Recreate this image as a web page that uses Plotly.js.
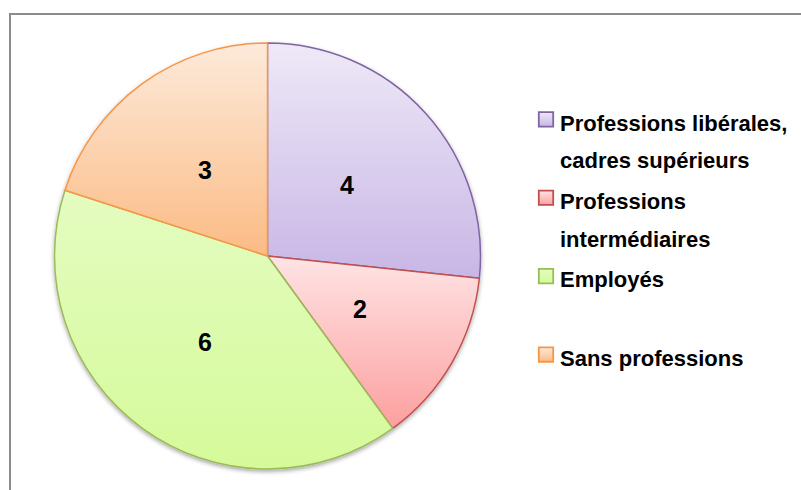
<!DOCTYPE html>
<html>
<head>
<meta charset="utf-8">
<script src="https://cdn.plot.ly/plotly-3.0.1.min.js"></script>
<style>
html,body{margin:0;padding:0;background:#fff;}
#chart{width:801px;height:490px;}
</style>
</head>
<body>
<div id="chart"></div>
<script>
var categories = ["Professions libérales,<br>cadres supérieurs", "Professions<br>intermédiaires", "Employés<br> ", "Sans professions<br> "];
var values = [4, 2, 6, 3];
var fillColors = ["#dcd2f0", "#fdc6c6", "#dcfaab", "#fcd3b0"];
var lineColors = ["#8064a2", "#c0504d", "#9bbb59", "#f79646"];
var gradTop = ["#eee9f7", "#fee4e4", "#e4fcc0", "#fdeadb"];
var gradBottom = ["#c8b6e5", "#fd9f9f", "#d5fa9a", "#fbbb84"];

var W = 801, H = 490;
var FONT = "Liberation Sans, Arial, sans-serif";
// pie box in pixels (layout)
var pieLeft = 54, pieRight = 481, pieTop = 43, pieBottom = 469;

function styledLabel(t) {
  return t.split("<br>").map(function(s){ return '<span style="font-size:22px">' + s + '</span>'; }).join("<br>");
}

var trace = {
  type: "pie",
  labels: categories.map(styledLabel),
  values: values,
  sort: false,
  direction: "clockwise",
  rotation: 0,
  marker: {colors: fillColors, line: {color: lineColors, width: 1.5}},
  textinfo: "none",
  domain: {x: [pieLeft/W, pieRight/W], y: [1 - pieBottom/H, 1 - pieTop/H]},
  hoverinfo: "none"
};

// value labels placed on each slice's bisector at half radius
var total = values.reduce(function(a, b){ return a + b; }, 0);
var cx = (pieLeft + pieRight) / 2, cy = (pieTop + pieBottom) / 2;
var R = Math.min(pieRight - pieLeft, pieBottom - pieTop) / 2;
var annotations = [];
var cum = 0;
values.forEach(function(v){
  var mid = (cum + v / 2) / total * 2 * Math.PI;
  cum += v;
  var px = cx + 0.5 * R * Math.sin(mid);
  var py = cy - 0.5 * R * Math.cos(mid);
  annotations.push({
    xref: "paper", yref: "paper", x: px / W, y: 1 - py / H,
    text: String(v), showarrow: false, xanchor: "center", yanchor: "middle",
    font: {family: FONT, size: 25, color: "#000", weight: 700}
  });
});

var layout = {
  width: W, height: H,
  margin: {l: 0, r: 0, t: 0, b: 0},
  paper_bgcolor: "#fff",
  showlegend: true,
  legend: {
    x: 520/W, y: 1 - 94/H, xanchor: "left", yanchor: "top",
    valign: "top",
    font: {family: FONT, size: 29, color: "#000", weight: 700},
    itemwidth: 30
  },
  annotations: annotations,
  shapes: [{
    type: "rect", xref: "paper", yref: "paper",
    x0: 10/W, x1: 1.02, y0: -0.02, y1: 1 - 14/H,
    line: {color: "#8c8c8c", width: 2}, fillcolor: "rgba(0,0,0,0)", layer: "below"
  }]
};
Plotly.newPlot("chart", [trace], layout, {staticPlot: true}).then(function(gd){
  var svg = gd.querySelector("svg.main-svg");
  var ns = "http://www.w3.org/2000/svg";
  var defs = svg.querySelector("defs") || svg.insertBefore(document.createElementNS(ns, "defs"), svg.firstChild);
  for (var i = 0; i < values.length; i++) {
    var g = document.createElementNS(ns, "linearGradient");
    g.setAttribute("id", "sg" + i);
    g.setAttribute("x1", "0"); g.setAttribute("y1", "0");
    g.setAttribute("x2", "0"); g.setAttribute("y2", "1");
    var s1 = document.createElementNS(ns, "stop");
    s1.setAttribute("offset", "0"); s1.setAttribute("stop-color", gradTop[i]);
    var s2 = document.createElementNS(ns, "stop");
    s2.setAttribute("offset", "1"); s2.setAttribute("stop-color", gradBottom[i]);
    g.appendChild(s1); g.appendChild(s2);
    defs.appendChild(g);
  }
  var f = document.createElementNS(ns, "filter");
  f.setAttribute("id", "pieShadow");
  f.setAttribute("x", "-10%"); f.setAttribute("y", "-10%");
  f.setAttribute("width", "120%"); f.setAttribute("height", "120%");
  var ds = document.createElementNS(ns, "feDropShadow");
  ds.setAttribute("dx", "0"); ds.setAttribute("dy", "2");
  ds.setAttribute("stdDeviation", "2");
  ds.setAttribute("flood-color", "#000"); ds.setAttribute("flood-opacity", "0.35");
  f.appendChild(ds);
  defs.appendChild(f);
  var pieTrace = gd.querySelector("g.pielayer g.trace");
  if (pieTrace) pieTrace.setAttribute("filter", "url(#pieShadow)");
  var slices = gd.querySelectorAll("g.slice path.surface");
  slices.forEach(function(p, i){ p.style.fill = "url(#sg" + i + ")"; });
  var legendPts = gd.querySelectorAll("g.legend g.traces path.legendpie");
  legendPts.forEach(function(p, i){
    p.style.fill = "url(#sg" + i + ")";
    var t = p.getAttribute("transform") || "";
    p.setAttribute("transform", t + " translate(6,0) scale(1.2)");
  });
});
</script>
</body>
</html>
